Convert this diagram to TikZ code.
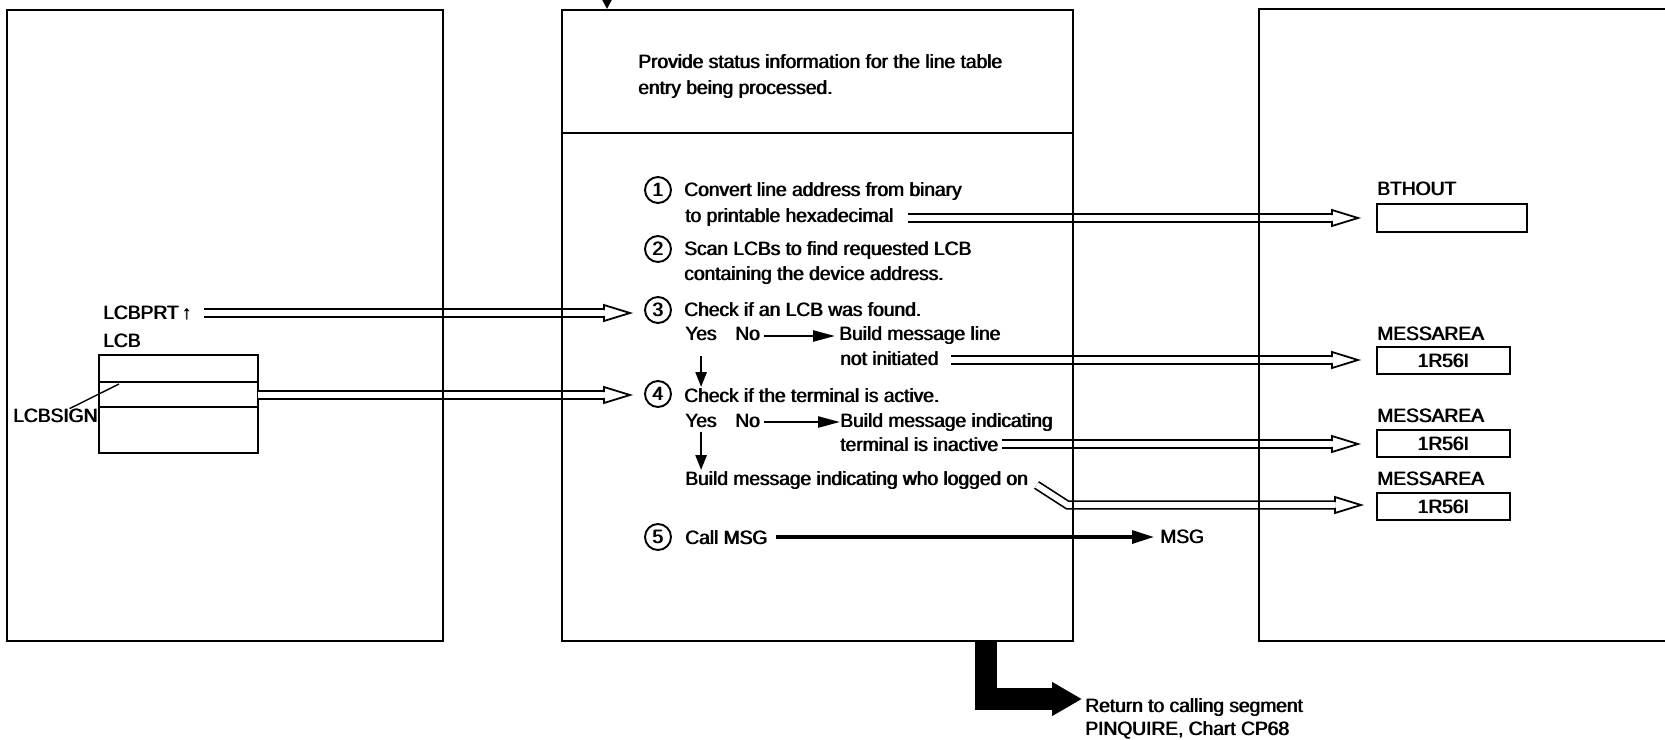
\documentclass[tikz,border=0pt]{standalone}
\usepackage{fontspec}
\setmainfont{Liberation Sans}
\usetikzlibrary{arrows.meta}

% slightly heavier text: the line is set twice, a hair apart
\newcommand\hv[1]{\rlap{#1}\kern0.45pt#1}

% open head for the double (data-flow) arrows, pointing right, tip at origin
\tikzset{
  dhead/.pic={
    \draw[line width=0.9pt, line join=miter]
      (-26,2.9) -- (-26,8) -- (0,0) -- (-26,-8) -- (-26,-2.9);
  }
}
\newcommand\dblarrow[2]{%
  \draw[dblline] (#1) -- (#2);
  \pic at (#2) {dhead};%
}

\begin{document}
\begin{tikzpicture}[x=0.5pt, y=-0.5pt,
  every node/.style={inner sep=0pt, outer sep=0pt, font=\fontsize{9.6pt}{12pt}\selectfont},
  txt/.style={anchor=base west},
  frame/.style={line width=1.35pt, line join=miter},
  num/.style={circle, draw, line width=0.95pt, minimum size=13pt},
  dblline/.style={double, double distance=2.9pt, line width=0.85pt, shorten >=13pt},
  thinarr/.style={line width=1.25pt, -{Triangle[length=11pt, width=5.5pt]}},
  downarr/.style={line width=1.25pt, -{Triangle[length=7.5pt, width=5.5pt]}},
  msgarr/.style={line width=1.6pt, -{Triangle[length=11pt, width=6.5pt]}},
  retarr/.style={line width=11pt, -{Triangle[length=15pt, width=16pt]}},
  databox/.style={draw, line width=1pt, anchor=north west, minimum width=66.5pt, minimum height=13.5pt},
  thin/.style={line width=0.9pt}
]
\useasboundingbox (0,0) rectangle (1665,739);
\clip (0,0) rectangle (1665,739);

% ---------- middle column: description and steps ----------
\node[txt] (prov1) at (638,68) {\hv{Provide status information for the line table}};
\node[txt] (prov2) at (638,94) {\hv{entry being processed.}};

\node[num] (c1) at (658,190) {\hv{1}};
\node[txt] (s1a) at (684,196) {\hv{Convert line address from binary}};
\node[txt] (s1b) at (685,222) {\hv{to printable hexadecimal}};

\node[num] (c2) at (658,249) {\hv{2}};
\node[txt] (s2a) at (684,255) {\hv{Scan LCBs to find requested LCB}};
\node[txt] (s2b) at (684,280) {\hv{containing the device address.}};

\node[num] (c3) at (658,310) {\hv{3}};
\node[txt] (s3a) at (684,316) {\hv{Check if an LCB was found.}};
\node[txt] (yes3) at (685,340) {\hv{Yes}};
\node[txt] (no3) at (735,340) {\hv{No}};
\node[txt] (b3a) at (839,340) {\hv{Build message line}};
\node[txt] (b3b) at (840,365) {\hv{not initiated}};

\node[num] (c4) at (658,394) {\hv{4}};
\node[txt] (s4a) at (684,402) {\hv{Check if the terminal is active.}};
\node[txt] (yes4) at (685,427) {\hv{Yes}};
\node[txt] (no4) at (735,427) {\hv{No}};
\node[txt] (b4a) at (840,427) {\hv{Build message indicating}};
\node[txt] (b4b) at (840,451) {\hv{terminal is inactive}};
\node[txt] (who) at (685,485) {\hv{Build message indicating who logged on}};

\node[num] (c5) at (658,537) {\hv{5}};
\node[txt] (call) at (685,544) {\hv{Call MSG}};
\node[txt] (msg) at (1160,543) {\hv{MSG}};

% ---------- right column: output areas ----------
\node[txt] (bthl) at (1377,195) {\hv{BTHOUT}};
\node[databox, minimum width=75pt, minimum height=14pt] (bth) at (1377,204) {};
\node[txt] (ma1l) at (1377,340) {\hv{MESSAREA}};
\node[databox] (ma1) at (1377,347) {\hv{1R56I}};
\node[txt] (ma2l) at (1377,422) {\hv{MESSAREA}};
\node[databox] (ma2) at (1377,430) {\hv{1R56I}};
\node[txt] (ma3l) at (1377,485) {\hv{MESSAREA}};
\node[databox] (ma3) at (1377,493) {\hv{1R56I}};

% ---------- left column: input control block ----------
\node[txt] (lcbprt) at (103,319) {\hv{LCBPRT\,↑}};
\node[txt] (lcbl) at (103,347) {\hv{LCB}};
\node[draw, thin, anchor=north west, minimum width=79.5pt, minimum height=49pt] (lcb) at (99,355) {};
\draw[thin] (lcb.west |- 0,382) -- (lcb.east |- 0,382);
\draw[thin] (lcb.west |- 0,407) -- (lcb.east |- 0,407);
\node[txt] (sign) at (13,422) {\hv{LCBSIGN}};
\coordinate (signp) at (119,384);
\draw[line width=0.7pt] ([xshift=7pt]sign.north) -- (signp);

% ---------- data-flow arrows ----------
\coordinate (a1s) at ([shift={(7pt,2pt)}]s1b.base east);
\coordinate (a1e) at ([xshift=-9.5pt]a1s -| bth.west);
\dblarrow{a1s}{a1e}

\coordinate (a2s) at ([shift={(6pt,3pt)}]lcbprt.base east);
\coordinate (a2e) at ([xshift=-7.5pt]a2s -| c3.west);
\dblarrow{a2s}{a2e}

\coordinate (a3s) at (lcb.east |- 0,395);
\coordinate (a3e) at ([xshift=-7.5pt]a3s -| c4.west);
\dblarrow{a3s}{a3e}

\coordinate (a4s) at ([shift={(6pt,2.5pt)}]b3b.base east);
\coordinate (a4e) at ([xshift=-9.5pt]a4s -| ma1.west);
\dblarrow{a4s}{a4e}

\coordinate (a5s) at ([shift={(1.5pt,3.5pt)}]b4b.base east);
\coordinate (a5e) at ([xshift=-9.5pt]a5s -| ma2.west);
\dblarrow{a5s}{a5e}

\coordinate (a6s) at ([xshift=4pt]who.base east);
\coordinate (a6m) at ([shift={(15.5pt,-10pt)}]a6s);
\coordinate (a6e) at ([xshift=-8pt]a6m -| ma3.west);
\draw[dblline] (a6s) -- (a6m) -- (a6e);
\pic at (a6e) {dhead};

% ---------- control-flow arrows ----------
\draw[thinarr] ([xshift=2pt]no3.base east |- 0,336) -- ([xshift=-2pt]b3a.west |- 0,336);
\draw[thinarr] ([xshift=2pt]no4.base east |- 0,422) -- (b4a.west |- 0,422);
\draw[downarr] (yes3.south |- 0,356) -- (yes3.south |- 0,387);
\draw[downarr] (yes4.south |- 0,432) -- (yes4.south |- 0,470);
\draw[msgarr] ([xshift=4pt]call.east |- 0,537) -- ([xshift=-3pt]msg.west |- 0,537);

% entry from the calling chart
\draw[line width=1pt, -{Triangle[length=5pt, width=5pt]}] (607,-30) -- (607,9);

% return to caller
\node[txt] (ret1) at (1085,712) {\hv{Return to calling segment}};
\node[txt] (ret2) at (1085,735) {\hv{PINQUIRE, Chart CP68}};
\coordinate (rs) at (986,641);
\coordinate (rt) at ([xshift=-1.5pt]ret1.west |- 0,699);
\draw[retarr] (rs) |- (rt);

% ---------- module frames ----------
\draw[frame] (7,10) rectangle (443,641);
\draw[frame] (562,10) rectangle (1073,641);
\draw[frame] (562,133) -- (1073,133);
\draw[frame] (1259,9) rectangle (1720,641);
\end{tikzpicture}
\end{document}
